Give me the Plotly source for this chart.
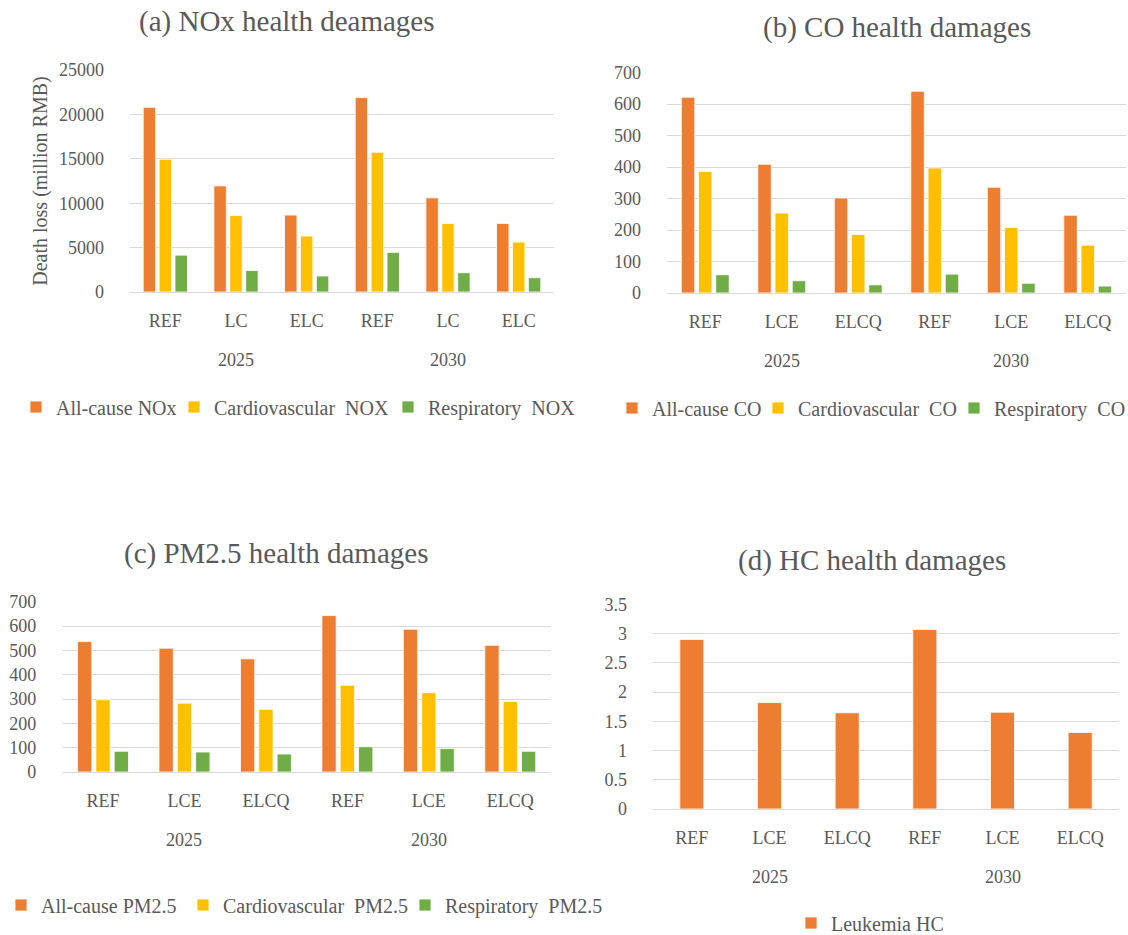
import plotly.graph_objects as go

# categories
years = ["2025", "2030"]
scen_nox = ["REF", "LC", "ELC"]
scen = ["REF", "LCE", "ELCQ"]

# (a) NOx, million RMB
nox_all = [20800, 11950, 8660, 21890, 10600, 7720]
nox_cardio = [14960, 8610, 6300, 15740, 7720, 5620]
nox_resp = [4150, 2420, 1800, 4460, 2170, 1610]

# (b) CO
co_all = [622, 409, 302, 641, 336, 247]
co_cardio = [386, 254, 186, 397, 208, 152]
co_resp = [58, 39, 26, 60, 31, 22]

# (c) PM2.5
pm_all = [536, 509, 465, 643, 587, 521]
pm_cardio = [297, 283, 258, 357, 326, 290]
pm_resp = [85, 82, 74, 104, 96, 85]

# (d) HC
hc_leuk = [2.90, 1.82, 1.645, 3.07, 1.655, 1.31]

ORANGE = "#ED7D31"
YELLOW = "#FFC000"
GREEN = "#70AD47"
GRID = "#D9D9D9"
TXT = "#595959"
FONT = "Liberation Serif"

W, H = 1128, 935


def px_x(a, b):
    return [a / W, b / W]


def px_y(top, bottom):
    return [1 - bottom / H, 1 - top / H]


panels = [
    dict(n="", title="(a) NOx health deamages", tx=287, ty=21, scen=scen_nox,
         xd=px_x(130, 554), yd=px_y(70, 292), yr=[0, 25000], dt=5000,
         series=[("All-cause NOx", nox_all, ORANGE, 113),
                 ("Cardiovascular\u00a0 NOX", nox_cardio, YELLOW, 169),
                 ("Respiratory\u00a0 NOX", nox_resp, GREEN, None)],
         lx=16, ly=407),
    dict(n="2", title="(b) CO health damages", tx=897, ty=27, scen=scen,
         xd=px_x(667, 1126), yd=px_y(72.7, 293), yr=[0, 700], dt=100,
         series=[("All-cause CO", co_all, ORANGE, 101),
                 ("Cardiovascular\u00a0 CO", co_cardio, YELLOW, 151),
                 ("Respiratory\u00a0 CO", co_resp, GREEN, None)],
         lx=612, ly=408),
    dict(n="3", title="(c) PM2.5 health damages", tx=276, ty=553, scen=scen,
         xd=px_x(62.3, 551), yd=px_y(601.7, 772), yr=[0, 700], dt=100,
         series=[("All-cause PM2.5", pm_all, ORANGE, 137),
                 ("Cardiovascular\u00a0 PM2.5", pm_cardio, YELLOW, 177),
                 ("Respiratory\u00a0 PM2.5", pm_resp, GREEN, None)],
         lx=1, ly=905),
    dict(n="4", title="(d) HC health damages", tx=872, ty=560, scen=scen,
         xd=px_x(653, 1119), yd=px_y(604.3, 809), yr=[0, 3.5], dt=0.5,
         series=[("Leukemia HC", hc_leuk, ORANGE, None)],
         lx=791, ly=923),
]

fig = go.Figure()
annotations = []
shapes = []
layout = dict()

for p in panels:
    n = p["n"]
    xa, ya = "x" + n, "y" + n
    leg = "legend" + n
    labels = [s for _ in years for s in p["scen"]]
    pos = list(range(len(labels)))
    for name, vals, col, lw in p["series"]:
        kw = {}
        if len(p["series"]) == 1:
            kw["width"] = 0.31
        if lw:
            kw["legendwidth"] = lw
        fig.add_trace(go.Bar(
            x=pos, y=vals, name=name, xaxis=xa, yaxis=ya, legend=leg,
            marker=dict(color=col, line=dict(color="white", width=0.8)),
            **kw))

    layout["xaxis" + n] = dict(
        domain=p["xd"], anchor=ya, range=[-0.5, len(labels) - 0.5],
        tickvals=pos, ticktext=labels, showgrid=False, zeroline=False,
        showline=True, linecolor=GRID, linewidth=1, ticks="",
        ticklabelstandoff=12, tickfont=dict(family=FONT, size=18, color=TXT))
    layout["yaxis" + n] = dict(
        domain=p["yd"], anchor=xa, range=p["yr"], dtick=p["dt"],
        tickformat="d" if p["dt"] >= 1 else None,
        showgrid=True, gridcolor=GRID, gridwidth=1, zeroline=False,
        showline=False, ticks="", ticklabelstandoff=25,
        tickfont=dict(family=FONT, size=18, color=TXT))
    layout[leg] = dict(
        orientation="h", x=p["lx"] / W, xanchor="left",
        y=1 - p["ly"] / H, yanchor="middle", bgcolor="rgba(0,0,0,0)",
        font=dict(family=FONT, size=20, color=TXT), itemclick=False)

    # group dividers and year labels below the category axis
    k = len(p["scen"])
    for i in range(len(years) + 1):
        shapes.append(dict(type="line", xref=xa, yref=ya, x0=i * k - 0.5,
                           x1=i * k - 0.5, ysizemode="pixel", yanchor=0,
                           y0=0, y1=-81, line=dict(color=GRID, width=1)))
    for i, yr in enumerate(years):
        annotations.append(dict(text=yr, xref=xa, yref=ya, x=i * k + (k - 1) / 2,
                                y=0, yshift=-68, yanchor="middle", showarrow=False,
                                font=dict(family=FONT, size=18, color=TXT)))
    annotations.append(dict(text=p["title"], xref="paper", yref="paper",
                            x=p["tx"] / W, y=1 - p["ty"] / H, xanchor="center",
                            yanchor="middle", showarrow=False,
                            font=dict(family=FONT, size=29, color=TXT)))

layout["yaxis"]["title"] = dict(text="Death loss (million RMB)", standoff=6,
                                font=dict(family=FONT, size=20, color=TXT))

fig.update_layout(
    width=W, height=H, margin=dict(l=0, r=0, t=0, b=0, autoexpand=False),
    paper_bgcolor="white", plot_bgcolor="white",
    barmode="group", bargap=0.325, bargroupgap=0.22,
    annotations=annotations, shapes=shapes, **layout)

# drop the default page margin so the figure sits at the window origin
fig.write_html("out.html", config={"displayModeBar": False},
               post_script="document.body.style.margin = '0';")
